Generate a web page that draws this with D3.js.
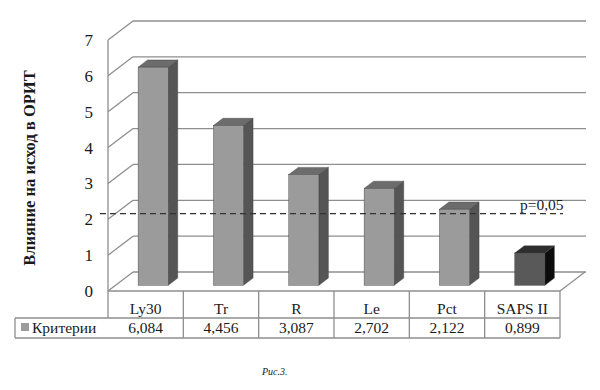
<!DOCTYPE html>
<html>
<head>
<meta charset="utf-8">
<script src="https://cdn.jsdelivr.net/npm/d3@7"></script>
<style>
  body { margin: 0; background: #fff; }
  svg text { font-family: "Liberation Serif", "Times New Roman", serif; fill: #1a1a1a; }
</style>
</head>
<body>
<div class="chart"></div>
<script>
// data
const categories = ["Ly30", "Tr", "R", "Le", "Pct", "SAPS II"];
const values = [6.084, 4.456, 3.087, 2.702, 2.122, 0.899];
const valueLabels = ["6,084", "4,456", "3,087", "2,702", "2,122", "0,899"];
const yTicks = [0, 1, 2, 3, 4, 5, 6, 7];
const seriesName = "Критерии";
const threshold = 2;
const thresholdLabel = "p=0,05";

const width = 600, height = 390;
const depth = {x: 25, y: -19};   // 3d wall depth
const barT0 = 0.3, barT1 = 0.68;  // bar position inside depth

const svg = d3.select(".chart").append("svg")
    .attr("width", width)
    .attr("height", height);

const xScale = d3.scaleBand()
    .domain(categories)
    .range([108, 560]);

const yScale = d3.scaleLinear()
    .domain([0, 7])
    .range([291, 40]);

const grid = svg.append("g").attr("stroke", "#8e8e8e").attr("stroke-width", 1.3).attr("fill", "none");

// back wall lines
grid.selectAll(".back")
    .data(yTicks)
    .join("line")
    .attr("x1", 108 + depth.x)
    .attr("x2", 586)
    .attr("y1", d => yScale(d) + depth.y)
    .attr("y2", d => yScale(d) + depth.y);

// side wall diagonals
grid.selectAll(".side")
    .data(yTicks)
    .join("line")
    .attr("x1", 108)
    .attr("x2", 108 + depth.x)
    .attr("y1", d => yScale(d))
    .attr("y2", d => yScale(d) + depth.y);

// floor right edge
grid.append("line")
    .attr("x1", xScale.range()[1]).attr("y1", yScale(0))
    .attr("x2", xScale.range()[1] + depth.x).attr("y2", yScale(0) + depth.y);

// front axis
grid.append("line")
    .attr("x1", 108).attr("x2", 108)
    .attr("y1", yScale(7)).attr("y2", 318);

// y labels
svg.selectAll(".ylab")
    .data(yTicks)
    .join("text")
    .attr("x", 93)
    .attr("y", d => yScale(d) + 6)
    .attr("text-anchor", "end")
    .attr("font-size", 17)
    .text(d => d);

// y title
svg.append("text")
    .attr("transform", "translate(35,168) rotate(-90)")
    .attr("text-anchor", "middle")
    .attr("font-size", 16.5)
    .attr("font-weight", "bold")
    .text("Влияние на исход в ОРИТ");

// bars
const bw = xScale.bandwidth() * 0.4;
const faces = svg.append("g");
categories.forEach((c, i) => {
  const last = i === categories.length - 1;
  const x0 = xScale(c) + (xScale.bandwidth() - bw) / 2 + depth.x * barT0;
  const base = yScale(0) + depth.y * barT0;
  const top = base - (yScale(0) - yScale(values[i]));
  const ddx = depth.x * (barT1 - barT0), ddy = depth.y * (barT1 - barT0);
  const g = faces.append("g").attr("stroke", "#3a3a3a").attr("stroke-width", 0.4);
  g.append("path")
    .attr("d", `M${x0 + bw},${top} L${x0 + bw + ddx},${top + ddy} L${x0 + bw + ddx},${base + ddy} L${x0 + bw},${base} Z`)
    .attr("fill", last ? "#0c0c0c" : "#555");
  g.append("path")
    .attr("d", `M${x0},${top} L${x0 + ddx},${top + ddy} L${x0 + bw + ddx},${top + ddy} L${x0 + bw},${top} Z`)
    .attr("fill", last ? "#2e2e2e" : "#6c6c6c");
  g.append("rect")
    .attr("x", x0).attr("y", top)
    .attr("width", bw).attr("height", base - top)
    .attr("fill", last ? "#595959" : "#9b9b9b");
});

// threshold line
const thrY = yScale(threshold) + depth.y * barT0;
svg.append("line")
    .attr("x1", 100).attr("x2", 563)
    .attr("y1", thrY).attr("y2", thrY)
    .attr("stroke", "#333")
    .attr("stroke-width", 1.3)
    .attr("stroke-dasharray", "6,4");

svg.append("text")
    .attr("x", 520).attr("y", thrY - 4)
    .attr("font-size", 15.5)
    .text(thresholdLabel);

// data table
const tbl = svg.append("g").attr("stroke", "#8e8e8e").attr("stroke-width", 1.3);
const rowTop = 291, rowMid = 318, rowBot = 338;
tbl.append("line").attr("x1", 108).attr("x2", 560).attr("y1", rowTop).attr("y2", rowTop);
tbl.append("line").attr("x1", 15).attr("x2", 560).attr("y1", rowMid).attr("y2", rowMid);
tbl.append("line").attr("x1", 15).attr("x2", 560).attr("y1", rowBot).attr("y2", rowBot);
tbl.append("line").attr("x1", 15).attr("x2", 15).attr("y1", rowMid).attr("y2", rowBot);
tbl.selectAll(".col")
    .data(categories)
    .join("line")
    .attr("x1", d => xScale(d) + xScale.bandwidth())
    .attr("x2", d => xScale(d) + xScale.bandwidth())
    .attr("y1", rowTop).attr("y2", rowBot);

svg.selectAll(".cat")
    .data(categories)
    .join("text")
    .attr("x", d => xScale(d) + xScale.bandwidth() / 2)
    .attr("y", rowMid - 4)
    .attr("text-anchor", "middle")
    .attr("font-size", 15.5)
    .text(d => d);

svg.selectAll(".val")
    .data(valueLabels)
    .join("text")
    .attr("x", (d, i) => xScale(categories[i]) + xScale.bandwidth() / 2)
    .attr("y", rowBot - 5)
    .attr("text-anchor", "middle")
    .attr("font-size", 15.5)
    .text(d => d);

svg.append("rect")
    .attr("x", 21).attr("y", 323)
    .attr("width", 8).attr("height", 8)
    .attr("fill", "#9b9b9b");

svg.append("text")
    .attr("x", 32).attr("y", rowBot - 5)
    .attr("font-size", 15.5)
    .text(seriesName);

// caption
svg.append("text")
    .attr("x", 262).attr("y", 375)
    .attr("font-size", 10)
    .attr("font-style", "italic")
    .text("Рис.3.");
</script>
</body>
</html>
